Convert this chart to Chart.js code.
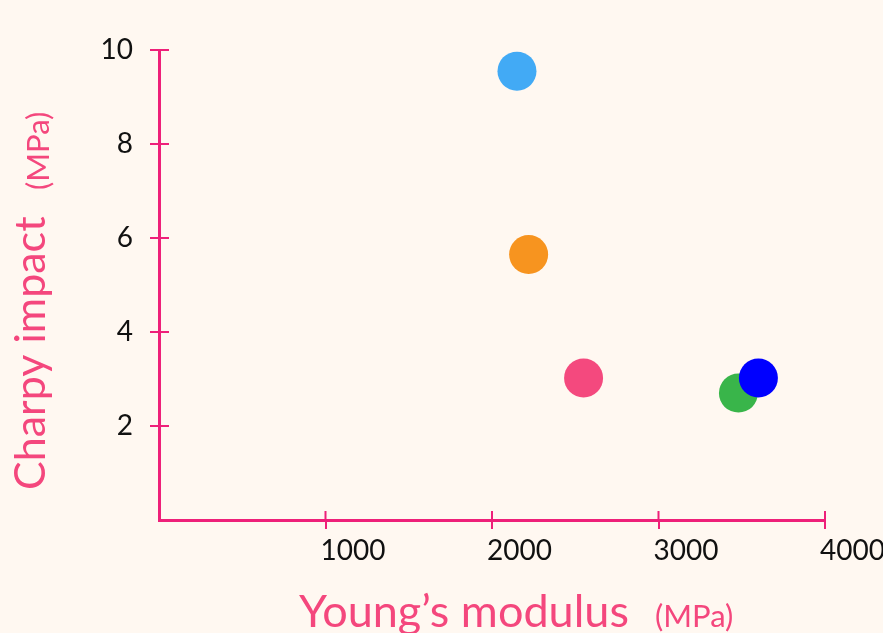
<!DOCTYPE html>
<html>
<head>
<meta charset="utf-8">
<script src="https://cdn.jsdelivr.net/npm/chart.js@4"></script>
<style>
    html, body { margin: 0; padding: 0; background: #fff8f1; }
    #wrap { width: 883px; height: 633px; position: relative; }
</style>
</head>
<body>
<div id="wrap"><canvas id="chart"></canvas></div>
<script>
// --- Data ---
const materials = ['A', 'B', 'C', 'D', 'E'];
const youngsModulus = [2150, 2220, 2550, 3480, 3600];
const charpyImpact = [9.55, 5.65, 3.02, 2.7, 3.02];
const pointColors = ['#42aaf5', '#f7941f', '#f4497e', '#39b54a', '#0000ff'];
const xTicks = [1000, 2000, 3000, 4000];
const yTicks = [2, 4, 6, 8, 10];

const axisColor = '#ee2079';
const titleColor = '#f4477d';
const font = 'Lato, "Open Sans", sans-serif';

// --- Inner half of the crossing tick marks ---
const innerTicks = {
    id: 'innerTicks',
    afterDraw(chart) {
        const { ctx, chartArea, scales } = chart;
        ctx.save();
        ctx.strokeStyle = axisColor;
        ctx.lineWidth = 2;
        ctx.beginPath();
        xTicks.forEach(v => {
            const x = scales.x.getPixelForValue(v);
            ctx.moveTo(x, chartArea.bottom);
            ctx.lineTo(x, chartArea.bottom - 9);
        });
        yTicks.forEach(v => {
            const y = scales.y.getPixelForValue(v);
            ctx.moveTo(chartArea.left, y);
            ctx.lineTo(chartArea.left + 10, y);
        });
        ctx.stroke();
        ctx.restore();
    }
};

// --- Axis titles, two sizes each ---
const axisTitles = {
    id: 'axisTitles',
    afterDraw(chart) {
        const { ctx } = chart;
        ctx.save();
        ctx.fillStyle = titleColor;
        ctx.textAlign = 'left';
        ctx.textBaseline = 'alphabetic';

        ctx.font = `45px ${font}`;
        ctx.fillText('Young\u2019s modulus', 299, 627);
        ctx.font = `31px ${font}`;
        ctx.fillText('(MPa)', 655, 627);

        ctx.translate(45, 490);
        ctx.rotate(-Math.PI / 2);
        ctx.font = `43px ${font}`;
        ctx.fillText('Charpy impact', 0, 0);
        ctx.font = `31px ${font}`;
        ctx.fillText('(MPa)', 300, 4);
        ctx.restore();
    }
};

const tickColor = c => (c.tick && c.tick.value === 0) ? 'rgba(0,0,0,0)' : axisColor;
const plain = v => String(v);

new Chart(document.getElementById('chart'), {
    type: 'scatter',
    data: {
        labels: materials,
        datasets: [{
            data: youngsModulus.map((x, i) => ({ x: x, y: charpyImpact[i] })),
            pointBackgroundColor: pointColors,
            pointBorderWidth: 0,
            pointRadius: 19.5,
            pointHoverRadius: 19.5,
        }]
    },
    options: {
        responsive: true,
        maintainAspectRatio: false,
        animation: false,
        layout: { padding: { left: 59, right: 58, top: 50, bottom: 53 } },
        plugins: { legend: { display: false }, tooltip: { enabled: false } },
        scales: {
            x: {
                type: 'linear',
                min: 0,
                max: 4000,
                afterBuildTicks: s => { s.ticks = xTicks.map(v => ({ value: v })); },
                afterFit: s => { s.height = 60; s.paddingLeft = 0; s.paddingRight = 0; },
                border: { color: axisColor, width: 3 },
                grid: { drawOnChartArea: false, tickLength: 9, color: tickColor, lineWidth: 2 },
                ticks: { align: 'start', labelOffset: -5, padding: 5, color: '#111', font: { family: font, size: 28 }, callback: plain }
            },
            y: {
                min: 0,
                max: 10,
                afterBuildTicks: s => { s.ticks = yTicks.map(v => ({ value: v })); },
                afterFit: s => { s.width = 100; s.paddingTop = 0; s.paddingBottom = 0; },
                border: { color: axisColor, width: 3 },
                grid: { drawOnChartArea: false, tickLength: 9, color: tickColor, lineWidth: 2 },
                ticks: { padding: 17, color: '#111', font: { family: font, size: 28 }, callback: plain }
            }
        }
    },
    plugins: [innerTicks, axisTitles]
});
</script>
</body>
</html>
